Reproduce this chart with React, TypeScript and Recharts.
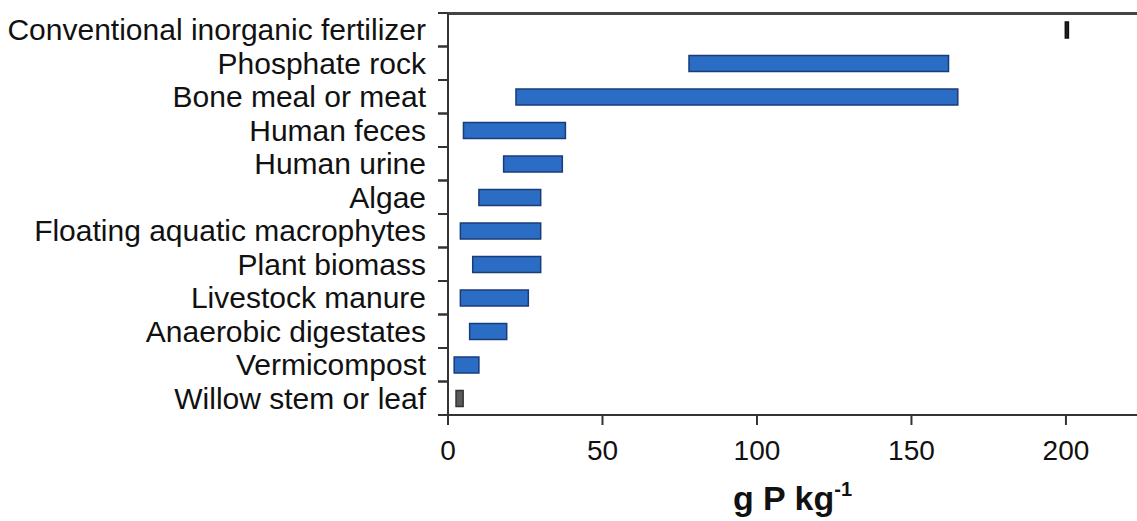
import React from "react";
import { BarChart, Bar, XAxis, YAxis, Cell, Label, ReferenceLine, CartesianGrid } from "recharts";

const categories = [
  "Conventional inorganic fertilizer",
  "Phosphate rock",
  "Bone meal or meat",
  "Human feces",
  "Human urine",
  "Algae",
  "Floating aquatic macrophytes",
  "Plant biomass",
  "Livestock manure",
  "Anaerobic digestates",
  "Vermicompost",
  "Willow stem or leaf",
];
const lowValues = [199.8, 78, 22, 5, 18, 10, 4, 8, 4, 7, 2, 2.6];
const highValues = [200.8, 162, 165, 38, 37, 30, 30, 30, 26, 19, 10, 4.9];
const xTicks = [0, 50, 100, 150, 200];

const data = categories.map((name, i) => ({
  name,
  base: lowValues[i],
  span: highValues[i] - lowValues[i],
}));

const W = 1137;
const H = 521;
const TOP = 13;
const BAND = 402 / 12;

const CatTick = (props: any) => {
  const { x, y, payload } = props;
  const ax = x + 22;
  return (
    <g>
      <text
        x={x}
        y={y}
        dy="0.355em"
        textAnchor="end"
        fontSize={30}
        fill="#111"
        fontFamily="'Liberation Sans', Arial, sans-serif"
      >
        {payload.value}
      </text>
      <line x1={ax - 10} x2={ax} y1={y - BAND / 2} y2={y - BAND / 2} stroke="#333" strokeWidth={2} />
      <line x1={ax - 10} x2={ax} y1={y + BAND / 2} y2={y + BAND / 2} stroke="#333" strokeWidth={2} />
    </g>
  );
};

const barFill = (i: number) => (i === 0 ? "#222" : i === 11 ? "#5a5a5a" : "#2b6cc4");
const barStroke = (i: number) => (i === 0 ? "#111" : i === 11 ? "#333" : "#1a3c78");

const App = () => {
  return (
    <div style={{ width: W, height: H, background: "#fff" }}>
      <style>{`body{margin:0}`}</style>
      <BarChart
        width={W}
        height={H}
        data={data}
        layout="vertical"
        margin={{ top: TOP, right: 0, bottom: 0, left: 0 }}
        barSize={16}
        style={{ fontFamily: "'Liberation Sans', Arial, sans-serif" }}
      >
        {/* top frame line */}
        <CartesianGrid vertical={false} horizontalPoints={[TOP + 1]} stroke="#444" strokeWidth={2} />
        <XAxis
          type="number"
          domain={[0, 223]}
          ticks={xTicks}
          allowDataOverflow
          height={106}
          tickSize={10}
          tickMargin={15}
          stroke="#333"
          strokeWidth={2}
          tick={{ fontSize: 28, fill: "#111" }}
        >
          <Label
            content={(p: any) => {
              const vb = p.viewBox;
              return (
                <text
                  x={vb.x + vb.width / 2}
                  y={vb.y + 95}
                  textAnchor="middle"
                  fontSize={34}
                  fontWeight="bold"
                  fill="#111"
                >
                  g P kg
                  <tspan fontSize={20} dy={-14}>
                    -1
                  </tspan>
                </text>
              );
            }}
          />
        </XAxis>
        <YAxis
          type="category"
          dataKey="name"
          width={448}
          tickSize={0}
          tickMargin={22}
          tickLine={false}
          stroke="#333"
          strokeWidth={2}
          interval={0}
          tick={<CatTick />}
        />
        <ReferenceLine y={categories[0]} position="start" stroke="#444" strokeWidth={2} ifOverflow="visible" />
        <Bar dataKey="base" stackId="r" fill="transparent" isAnimationActive={false} />
        <Bar dataKey="span" stackId="r" strokeWidth={1.5} isAnimationActive={false}>
          {data.map((d, i) => (
            <Cell key={d.name} fill={barFill(i)} stroke={barStroke(i)} />
          ))}
        </Bar>
      </BarChart>
    </div>
  );
};

export default App;
